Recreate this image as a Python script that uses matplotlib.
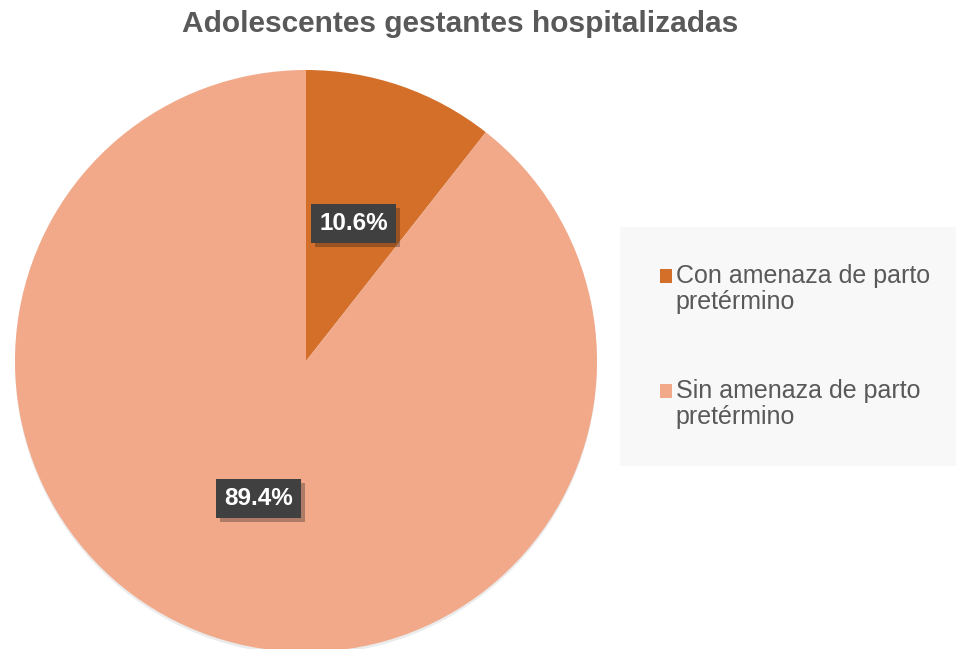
import matplotlib.pyplot as plt
import matplotlib.patheffects as pe
from matplotlib.patches import Patch, Rectangle
from matplotlib.legend_handler import HandlerPatch
import numpy as np

# data
categories = ['Con amenaza de parto\npretérmino', 'Sin amenaza de parto\npretérmino']
values = [10.6, 89.4]
colors = ['#D46F2A', '#F1A98A']
title = 'Adolescentes gestantes hospitalizadas'

plt.rcParams['font.family'] = ['Liberation Sans', 'DejaVu Sans']

fig = plt.figure(figsize=(9.56, 6.49), dpi=100)
ax = fig.add_axes([0, 0, 1, 1])

wedges, texts = ax.pie(values, colors=colors, startangle=90, counterclock=False,
                       center=(306, 288), radius=291, frame=True,
                       wedgeprops=dict(linewidth=0))
ax.set_xlim(0, 956)
ax.set_ylim(0, 649)
ax.set_aspect('equal')
ax.axis('off')
for w in wedges:
    w.set_path_effects([pe.SimplePatchShadow(offset=(0, -2), shadow_rgbFace='#000000', alpha=0.08), pe.Normal()])

# data labels
ang0 = 90
for v in values:
    mid = np.deg2rad(ang0 - v / 100 * 360 / 2)
    ang0 -= v / 100 * 360
    x = 306 + 0.5 * 291 * np.cos(mid)
    y = 288 + 0.5 * 291 * np.sin(mid)
    t = ax.text(x, y, f'{v:.1f}%', ha='center', va='center', color='white',
                fontsize=17.5, fontweight='bold',
                bbox=dict(boxstyle='square,pad=0.33', facecolor='#404040', edgecolor='none'))
    t.get_bbox_patch().set_path_effects([pe.SimplePatchShadow(offset=(3, -3), alpha=0.3), pe.Normal()])

fig.text(0.481, 0.963, title, ha='center', va='center', fontsize=21.5,
         fontweight='bold', color='#595959')


# legend square sits next to the first text line
def top_square(legend, orig_handle, xdescent, ydescent, width, height, fontsize):
    return Rectangle((-xdescent + 2, -ydescent + 10), width, height)


handles = [Patch(facecolor=c, edgecolor='none') for c in colors]
leg = fig.legend(handles, categories, loc='center left', bbox_to_anchor=(0.6485, 0.466),
                 fontsize=18, frameon=True, facecolor='#F8F8F8', edgecolor='none',
                 fancybox=False, handlelength=0.48, handleheight=0.48, handletextpad=0.25,
                 labelspacing=2.6, borderpad=1.5, borderaxespad=0, labelcolor='#595959',
                 handler_map={Patch: HandlerPatch(patch_func=top_square)})
leg.get_frame().set_alpha(1)
for txt in leg.get_texts():
    txt.set_linespacing(1.1)

fig.savefig('out.png', dpi=100)
